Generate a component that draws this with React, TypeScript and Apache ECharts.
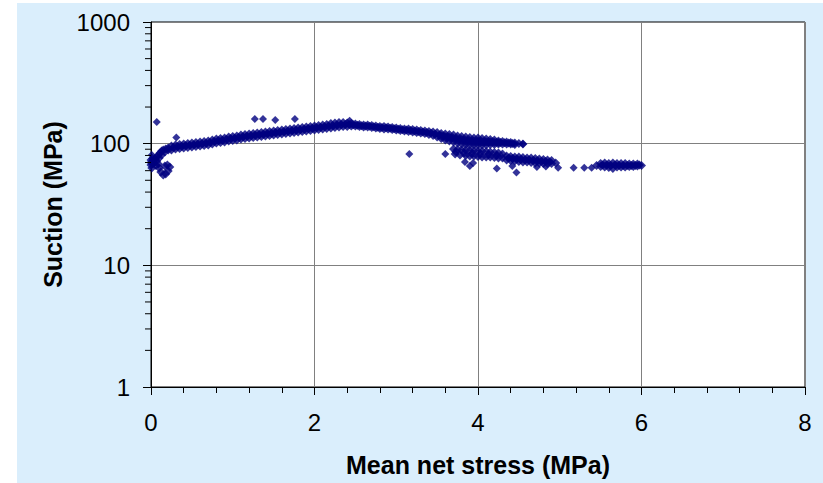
import { useEffect, useRef } from "react";
import * as echarts from "echarts";

// Axis ticks
const xTicks = [0, 2, 4, 6, 8];
const yTicks = [1, 10, 100, 1000];
const yMinorTicks = [2, 3, 4, 5, 6, 7, 8, 9, 20, 30, 40, 50, 60, 70, 80, 90, 200, 300, 400, 500, 600, 700, 800, 900];

// Data: [mean net stress (MPa), suction (MPa)]
const hookPoints: [number, number][] = [
  [0.0, 73.4], [0.0, 66.8], [0.01, 63.1], [0.02, 68.1], [0.03, 72.0], [0.05, 74.8], [0.07, 77.7],
  [0.09, 80.7], [0.11, 83.8], [0.13, 87.0], [0.15, 88.7], [0.18, 90.4], [0.21, 92.1],
  [0.04, 69.3], [0.07, 72.0], [0.1, 76.2], [0.13, 80.7], [0.17, 85.4], [0.21, 88.7],
  [0.09, 68.1], [0.1, 63.1], [0.12, 58.5], [0.15, 55.3], [0.18, 56.3], [0.21, 59.6], [0.23, 64.3],
  [0.2, 66.8], [0.17, 65.5], [0.0, 70.0], [0.02, 75.5], [0.06, 66.0],
];

const risingX = [
  0.25, 0.3, 0.35, 0.4, 0.45, 0.5, 0.55, 0.6, 0.65, 0.7, 0.75, 0.8, 0.85, 0.9, 0.95, 1.0, 1.05, 1.1,
  1.15, 1.2, 1.25, 1.3, 1.35, 1.4, 1.45, 1.5, 1.55, 1.6, 1.65, 1.7, 1.75, 1.8, 1.85, 1.9, 1.95, 2.0,
  2.05, 2.1, 2.15, 2.2, 2.25, 2.3, 2.35, 2.4,
];
const risingUpperY = [
  95.7, 97.5, 98.5, 99.4, 100.3, 101.3, 102.2, 103.2, 104.2, 105.2, 107.2, 109.3, 110.3, 111.3, 113.5,
  114.5, 115.6, 117.8, 119.0, 120.1, 121.2, 122.4, 123.5, 124.7, 125.9, 127.1, 128.3, 129.5, 130.7,
  132.0, 133.2, 134.5, 135.8, 137.1, 138.4, 139.7, 141.0, 142.4, 143.7, 146.5, 147.9, 149.3, 149.3, 147.9,
];
const risingLowerY = [
  88.7, 90.4, 91.2, 92.1, 93.0, 93.9, 94.8, 95.7, 96.6, 97.5, 99.4, 101.3, 102.2, 103.2, 105.2, 106.2,
  107.2, 109.3, 110.3, 111.3, 112.4, 113.5, 114.5, 115.6, 116.7, 117.8, 119.0, 120.1, 121.2, 122.4,
  123.5, 124.7, 125.9, 127.1, 128.3, 129.5, 130.7, 132.0, 133.2, 134.5, 135.8, 137.1, 138.4, 138.4,
];
const risingMidX = [
  0.275, 0.325, 0.375, 0.425, 0.475, 0.525, 0.575, 0.625, 0.675, 0.725, 0.775, 0.825, 0.875, 0.925,
  0.975, 1.025, 1.075, 1.125, 1.175, 1.225, 1.275, 1.325, 1.375, 1.425, 1.475, 1.525, 1.575, 1.625,
  1.675, 1.725, 1.775, 1.825, 1.875, 1.925, 1.975, 2.025, 2.075, 2.125, 2.175, 2.225, 2.275, 2.325,
  2.375, 2.425,
];
const risingMidY = [
  93.0, 94.3, 95.2, 96.2, 97.1, 98.0, 98.9, 99.9, 100.8, 102.2, 104.2, 105.7, 106.7, 108.2, 109.8,
  110.8, 112.4, 114.0, 115.0, 116.2, 117.2, 118.4, 119.5, 120.6, 121.8, 122.9, 124.1, 125.3, 126.5,
  127.7, 128.9, 130.1, 131.3, 132.6, 133.9, 135.1, 136.4, 137.7, 139.0, 140.4, 141.7, 143.0, 143.7, 143.7,
];

const declineX = [
  2.45, 2.5, 2.55, 2.6, 2.65, 2.7, 2.75, 2.8, 2.85, 2.9, 2.95, 3.0, 3.05, 3.1, 3.15, 3.2, 3.25, 3.3,
  3.35, 3.4, 3.45, 3.5, 3.55, 3.6, 3.65, 3.7, 3.75, 3.8, 3.85, 3.9, 3.95, 4.0, 4.05, 4.1, 4.15, 4.2,
  4.25, 4.3, 4.35, 4.4, 4.45, 4.5, 4.55,
];
const declineUpperY = [
  146.5, 145.1, 143.7, 142.4, 142.4, 141.0, 139.7, 138.4, 138.4, 137.1, 135.8, 134.5, 133.2, 132.0,
  132.0, 130.7, 129.5, 128.3, 127.1, 125.9, 124.7, 123.5, 121.2, 120.1, 119.0, 117.8, 115.6, 114.5,
  113.5, 112.4, 111.3, 111.3, 110.3, 109.3, 108.2, 107.2, 105.2, 104.2, 103.2, 102.2, 101.3, 100.3, 99.4,
];
const declineLowerY = [
  139.7, 139.7, 138.4, 137.1, 137.1, 135.8, 134.5, 133.2, 132.0, 132.0, 130.7, 129.5, 128.3, 127.1,
  125.9, 124.7, 123.5, 122.4, 121.2, 119.0, 116.7, 113.5, 110.3, 107.2, 105.2, 103.2, 101.3, 99.4,
  98.5, 97.5, 97.5, 97.5, 97.5, 97.5, 98.5, 98.5, 99.4, 99.4, 99.4, 99.4, 98.5,
];
const declineMidX = [
  2.475, 2.525, 2.575, 2.625, 2.675, 2.725, 2.775, 2.825, 2.875, 2.925, 2.975, 3.025, 3.075, 3.125,
  3.175, 3.225, 3.275, 3.325, 3.375, 3.425, 3.475, 3.525, 3.575, 3.625, 3.675, 3.725, 3.775, 3.825,
  3.875, 3.925, 3.975, 4.025, 4.075, 4.125, 4.175, 4.225, 4.275, 4.325, 4.375, 4.425,
];
const declineMidY = [
  142.8, 141.8, 140.5, 139.8, 139.1, 137.8, 136.5, 135.5, 134.9, 134.0, 132.7, 131.4, 130.2, 129.3,
  128.4, 127.1, 126.0, 124.8, 123.4, 121.6, 119.6, 117.2, 114.8, 112.9, 111.3, 109.5, 107.8, 106.5,
  105.5, 104.7, 104.4, 104.2, 103.7, 103.4, 103.2, 102.6, 102.1, 101.6, 101.1, 100.4,
];

const bandFill: [number, number][] = [
  [3.55, 115.6], [3.6, 113.5], [3.65, 112.4], [3.7, 110.3], [3.75, 108.2], [3.8, 107.2], [3.85, 105.2],
  [3.9, 105.2], [3.95, 104.2], [4.0, 104.2], [4.05, 103.2], [4.1, 103.2], [4.15, 103.2], [4.2, 102.2],
  [4.25, 102.2],
];

const middleCluster: [number, number][] = [
  [3.7, 90.4], [3.75, 89.5], [3.8, 88.7], [3.85, 88.7], [3.9, 87.8], [3.95, 87.8], [4.0, 87.0],
  [4.05, 87.0], [4.1, 86.2], [4.15, 85.4], [4.2, 84.6], [4.25, 83.8], [4.3, 82.2],
  [3.72, 82.2], [3.78, 80.7], [3.85, 79.9], [3.9, 79.2], [3.95, 79.2], [4.0, 78.4], [4.05, 77.7],
  [4.1, 77.7], [4.15, 77.7], [4.2, 76.9], [4.25, 76.2], [4.3, 76.2],
  [3.73, 86.0], [3.83, 84.0], [3.93, 83.0], [4.03, 82.2], [4.13, 81.4], [4.23, 80.0],
];

const lowerBranch: [number, number][] = [
  [4.35, 79.2], [4.4, 78.4], [4.45, 77.7], [4.5, 77.7], [4.55, 76.9], [4.6, 76.2], [4.65, 76.2],
  [4.7, 75.5], [4.75, 74.8], [4.8, 74.1], [4.85, 73.4], [4.9, 72.7],
  [4.35, 73.4], [4.4, 72.7], [4.45, 72.0], [4.5, 71.3], [4.55, 70.7], [4.6, 70.7], [4.65, 70.0],
  [4.7, 69.3], [4.75, 69.3], [4.8, 68.7], [4.85, 68.7], [4.9, 68.7], [4.95, 69.3],
  [4.375, 76.2], [4.425, 75.5], [4.475, 74.8], [4.525, 74.1], [4.575, 73.4], [4.625, 73.4],
  [4.675, 72.7], [4.725, 72.0], [4.775, 71.3], [4.825, 71.3], [4.875, 70.7],
];

const tailCluster: [number, number][] = [
  [5.5, 68.7], [5.55, 69.3], [5.6, 68.7], [5.65, 69.3], [5.7, 68.7], [5.75, 68.7], [5.8, 68.7],
  [5.85, 68.1], [5.9, 68.1], [5.95, 68.1],
  [5.45, 66.2], [5.5, 64.9], [5.55, 64.3], [5.6, 63.7], [5.65, 62.5], [5.7, 64.3], [5.75, 64.3],
  [5.8, 64.3], [5.85, 64.9], [5.9, 64.9], [5.95, 65.5], [6.0, 66.2],
  [5.525, 66.8], [5.575, 66.8], [5.625, 66.2], [5.675, 66.8], [5.725, 66.2], [5.775, 66.2],
  [5.825, 66.2], [5.875, 66.2], [5.925, 66.2], [5.975, 66.8],
];

const stragglers: [number, number][] = [
  [4.72, 64.3], [4.83, 64.9], [4.98, 63.5], [5.17, 63.5], [5.3, 63.5], [5.39, 63.5],
];

const outliers: [number, number][] = [
  [0.01, 80.7], [0.07, 150.7], [0.31, 112.4], [1.27, 159.5], [1.37, 159.5], [1.52, 156.5],
  [1.76, 159.5], [2.43, 154.0], [3.16, 82.2], [3.6, 82.2], [3.84, 70.7], [3.94, 69.3], [3.9, 65.5],
  [4.23, 62.5], [4.42, 65.5], [4.47, 58.0], [4.55, 99.4],
];

const zip = (xs: number[], ys: number[]): [number, number][] =>
  ys.map((y, i) => [xs[i], y] as [number, number]);

const FONT = 'Arial, "Liberation Sans", sans-serif';
const MARK = "#000080";

export default function App() {
  const ref = useRef<HTMLDivElement>(null);

  useEffect(() => {
    if (!ref.current) return;
    const chart = echarts.init(ref.current, null, { renderer: "svg" });

    const densePoints = [
      ...hookPoints,
      ...zip(risingX, risingUpperY),
      ...zip(risingX, risingLowerY),
      ...zip(risingMidX, risingMidY),
      ...zip(declineX, declineUpperY),
      ...zip(declineX, declineLowerY),
      ...zip(declineMidX, declineMidY),
      ...bandFill,
      ...middleCluster,
      ...lowerBranch,
      ...tailCluster,
    ];
    const sparsePoints = [...stragglers, ...outliers];

    chart.setOption({
      animation: false,
      backgroundColor: "transparent",
      grid: {
        left: 151,
        right: 18,
        top: 22,
        bottom: 96,
        show: true,
        backgroundColor: "#ffffff",
        borderColor: "#000000",
        borderWidth: 1,
      },
      xAxis: {
        type: "value",
        min: xTicks[0],
        max: xTicks[xTicks.length - 1],
        interval: xTicks[1] - xTicks[0],
        name: "Mean net stress (MPa)",
        nameLocation: "middle",
        nameGap: 65,
        nameTextStyle: { fontFamily: FONT, fontSize: 25, fontWeight: "bold", color: "#000" },
        axisLine: { show: true, onZero: false, lineStyle: { color: "#000", width: 1 } },
        axisTick: { show: true, length: 8, lineStyle: { color: "#000" } },
        minorTick: { show: true, splitNumber: 5, length: 6, lineStyle: { color: "#000" } },
        axisLabel: { fontFamily: FONT, fontSize: 24, color: "#000", margin: 23 },
        splitLine: { show: true, lineStyle: { color: "#808080", width: 1 } },
      },
      yAxis: {
        type: "log",
        logBase: 10,
        min: yTicks[0],
        max: yTicks[yTicks.length - 1],
        name: "Suction (MPa)",
        nameLocation: "middle",
        nameGap: 86,
        nameTextStyle: { fontFamily: FONT, fontSize: 25, fontWeight: "bold", color: "#000" },
        axisLine: { show: true, onZero: false, lineStyle: { color: "#000", width: 1 } },
        axisTick: { show: true, length: 8, lineStyle: { color: "#000" } },
        axisLabel: {
          fontFamily: FONT,
          fontSize: 24,
          color: "#000",
          margin: 21,
          formatter: (v: number) => String(Math.round(v)),
        },
        splitLine: { show: true, lineStyle: { color: "#808080", width: 1 } },
      },
      series: [
        {
          type: "scatter",
          data: densePoints,
          symbol: "diamond",
          symbolSize: 9,
          itemStyle: { color: MARK },
          silent: true,
          z: 3,
        },
        {
          type: "scatter",
          data: sparsePoints,
          symbol: "diamond",
          symbolSize: 8,
          itemStyle: { color: MARK },
          silent: true,
          z: 3,
        },
        {
          type: "custom",
          coordinateSystem: "cartesian2d",
          data: yMinorTicks.map((v) => [xTicks[0], v]),
          clip: false,
          silent: true,
          z: 5,
          renderItem: (_params: any, api: any) => {
            const p = api.coord([api.value(0), api.value(1)]);
            return {
              type: "line",
              shape: { x1: p[0] - 6, y1: p[1], x2: p[0], y2: p[1] },
              style: { stroke: "#000", lineWidth: 1 },
            };
          },
        },
      ],
    });

    return () => chart.dispose();
  }, []);

  return (
    <div
      style={{
        position: "fixed",
        left: 0,
        top: 0,
        width: 823,
        height: 483,
        background: "#ffffff",
        overflow: "hidden",
      }}
    >
      <div
        style={{
          position: "absolute",
          left: 17,
          top: 3,
          right: 0,
          bottom: 0,
          background: "#DAEEFC",
        }}
      />
      <div ref={ref} style={{ position: "absolute", left: 0, top: 0, width: 823, height: 483 }} />
    </div>
  );
}
